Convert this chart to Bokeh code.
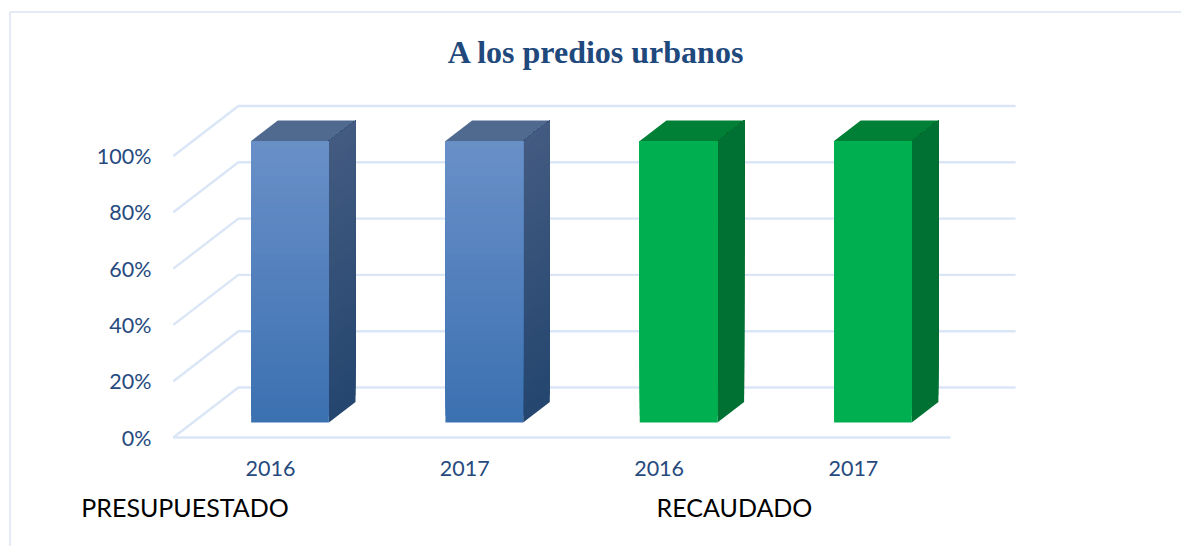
from bokeh.plotting import figure
from bokeh.models import Range1d, FixedTicker, PrintfTickFormatter, LinearAxis
from bokeh.core.properties import value
from bokeh.embed import file_html
from bokeh.resources import INLINE

# ---- data ----
title = "A los predios urbanos"
groups = ["PRESUPUESTADO", "RECAUDADO"]
group_ticks = [-0.44, 2.388]
years = ["2016", "2017", "2016", "2017"]
presupuestado = [100, 100]
recaudado = [100, 100]
values = presupuestado + recaudado
y_ticks = [0, 20, 40, 60, 80, 100]

# ---- styles ----
TICK = "#264A7E"
GRID = "#DAE6F6"
BORDER = "#DDE5F2"
BLUE = dict(front=("#6A90C8", "#3C71B1"), side=("#445B81", "#24466F"), top="#50698F")
GREEN = dict(front=("#00B050", "#00B050"), side=("#007033", "#007033"), top="#008037")
styles = [BLUE, BLUE, GREEN, GREEN]

# scale: one category = 194.3 px, one percent = 2.815 px
XS, YS = 194.3, 2.815
X0_PX, Y0_PX = 270, 437
X_START, X_END = -X0_PX / XS, (1181 - X0_PX) / XS
Y_START, Y_END = (Y0_PX - 546) / YS, Y0_PX / YS

# oblique projection of depth (0 = front, 1 = back wall) in data units
DX = 65 / XS
DY = 50 / YS
BAR_W = 0.4
D0, D1 = 0.30, 0.71
X_LO, X_HI = -0.5, 3.5

p = figure(width=1181, height=546, output_backend="svg", toolbar_location=None,
           x_range=Range1d(X_START, X_END), y_range=Range1d(Y_START, Y_END),
           min_border=0, outline_line_color=None,
           background_fill_color="white", border_fill_color="white")
p.grid.visible = False

# axes are pinned inside the frame
YAX_AT = (158 - X0_PX) / XS
XAX_AT = (Y0_PX - 452) / YS
CAP_AT = (Y0_PX - 485) / YS
p.yaxis.ticker = FixedTicker(ticks=y_ticks)
p.yaxis.formatter = PrintfTickFormatter(format="%d%%")
p.yaxis.fixed_location = YAX_AT
p.yaxis.major_label_standoff = 1
p.xaxis.ticker = FixedTicker(ticks=list(range(len(years))))
p.xaxis.major_label_overrides = {i: y for i, y in enumerate(years)}
p.xaxis.fixed_location = XAX_AT
p.xaxis.major_label_standoff = 2
cap = LinearAxis(ticker=FixedTicker(ticks=group_ticks),
                 major_label_overrides=dict(zip(group_ticks, groups)),
                 fixed_location=CAP_AT, major_label_standoff=0)
p.add_layout(cap, "below")
for ax in (p.xaxis[0], p.yaxis[0], cap):
    ax.axis_line_color = None
    ax.major_tick_line_color = None
    ax.minor_tick_line_color = None
    ax.major_label_text_color = TICK
    ax.major_label_text_font = "Lato"
    ax.major_label_text_font_size = "21.5px"
cap.major_label_text_color = "#000000"
cap.major_label_text_font_size = "25px"

# outer frame
bx, by = (9.5 - X0_PX) / XS, (Y0_PX - 11.5) / YS
p.line([bx, bx, X_END], [Y_START, by, by], line_color=BORDER, line_width=1.5)

# title
p.text([(596 - X0_PX) / XS], [(Y0_PX - 51) / YS], text=[title],
       text_font=value("Liberation Serif"), text_font_style="bold", text_font_size="32px",
       text_color="#1F497D", text_align="center", text_baseline="middle")

# walls and floor
for t in y_ticks:
    p.line([X_LO, X_LO + DX, X_HI + DX], [t, t + DY, t + DY], line_color=GRID, line_width=2.4)
p.line([X_LO, X_HI], [0, 0], line_color=GRID, line_width=2.4)


def lerp(c1, c2, f):
    a = [int(c1[i:i + 2], 16) for i in (1, 3, 5)]
    b = [int(c2[i:i + 2], 16) for i in (1, 3, 5)]
    return "#%02x%02x%02x" % tuple(round(u + (v - u) * f) for u, v in zip(a, b))


STRIPS = 40
for i, (v, st) in enumerate(zip(values, styles)):
    xl = i + D0 * DX - BAR_W / 2
    xr = xl + BAR_W
    y0f, y0b = D0 * DY, D1 * DY
    ddx = (D1 - D0) * DX
    # top face
    p.patch([xl, xr, xr + ddx, xl + ddx], [v + y0f, v + y0f, v + y0b, v + y0b],
            fill_color=st["top"], line_color=None)
    # side and front: each strip runs up to the bar top, the next paints over it
    for k in range(STRIPS):
        f0 = k / STRIPS
        lo = v * f0
        c = lerp(st["side"][1], st["side"][0], f0)
        p.patch([xr, xr + ddx, xr + ddx, xr],
                [lo + y0f, lo + y0b, v + y0b, v + y0f],
                fill_color=c, line_color=None)
    for k in range(STRIPS):
        f0 = k / STRIPS
        c = lerp(st["front"][1], st["front"][0], f0)
        p.quad(left=xl, right=xr, bottom=v * f0 + y0f, top=v + y0f,
               fill_color=c, line_color=None)

open("out.html", "w").write(file_html(p, INLINE))
